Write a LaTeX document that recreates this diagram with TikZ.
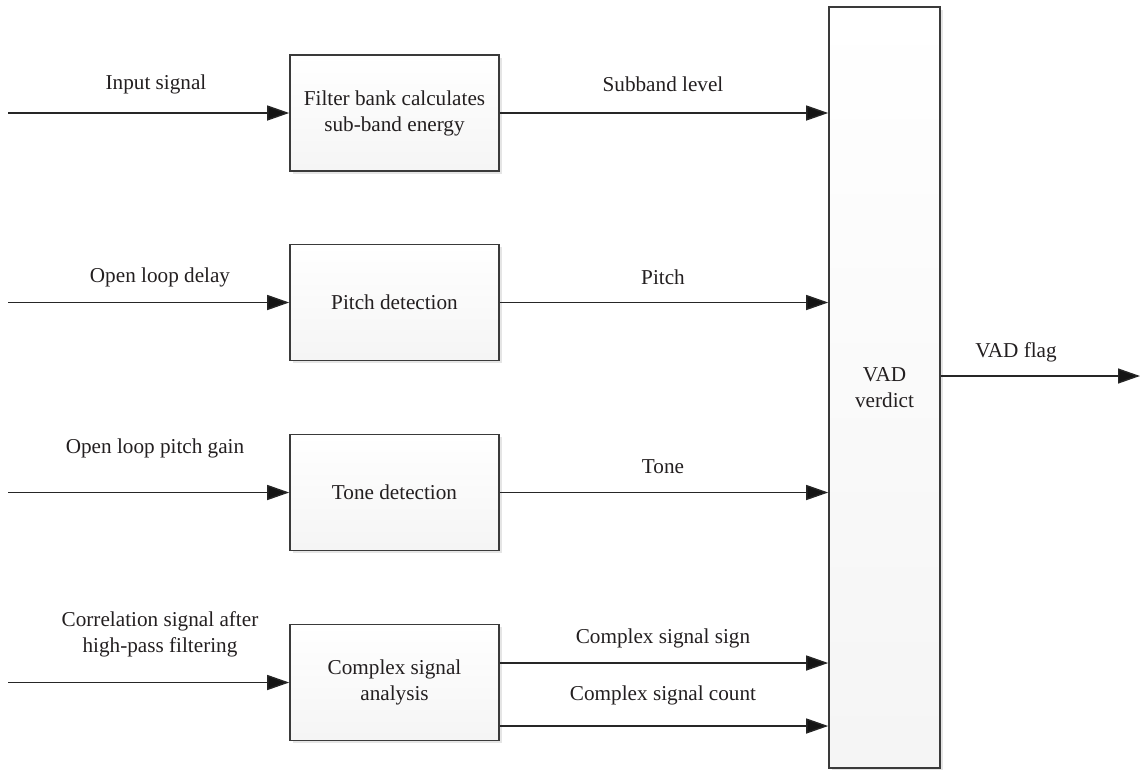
\documentclass[tikz,border=0pt]{standalone}
\usepackage{fontspec}
\setmainfont{Liberation Serif}
\usetikzlibrary{arrows.meta,shadows}
\definecolor{txt}{HTML}{231F20}
\definecolor{edge}{HTML}{3A3A3A}
\tikzset{
  blk/.style={draw=edge, line width=1.6pt, top color=white, bottom color=black!4,
    drop shadow={shadow xshift=2.5pt, shadow yshift=-2.5pt, fill=black!10, opacity=1},
    align=center, text=txt, font=\fontsize{21.2}{26}\selectfont, inner sep=0pt},
  stdbox/.style={blk, minimum width=209pt, minimum height=116pt},
  lbl/.style={align=center, text=txt, font=\fontsize{21.2}{26}\selectfont, inner sep=0pt},
  arr/.style={draw=black!85, line width=1.4pt, -{Triangle[length=22pt, width=15pt, fill=black!92]}}
}
\begin{document}
\begin{tikzpicture}[x=1pt, y=-1pt]
\useasboundingbox (0,0) rectangle (1140,769);
% blocks
\node[stdbox] (b1) at (394.5,113) {Filter bank calculates\\sub-band energy};
\node[stdbox] (b2) at (394.5,302.5) {Pitch detection};
\node[stdbox] (b3) at (394.5,492.5) {Tone detection};
\node[stdbox] (b4) at (394.5,682.5) {Complex signal\\analysis};
\node[blk, minimum width=111pt, minimum height=761pt] (v) at (884.5,387.5) {VAD\\verdict};
% input ends
\coordinate (i1) at (8,113);
\coordinate (i2) at (8,302.5);
\coordinate (i3) at (8,492.5);
\coordinate (i4) at (8,682.5);
\draw[arr] (i1) -- (b1.west);
\draw[arr] (i2) -- (b2.west);
\draw[arr] (i3) -- (b3.west);
\draw[arr] (i4) -- (b4.west);
% outputs
\draw[arr] (b1.east) -- (b1.east -| v.west);
\draw[arr] (b2.east) -- (b2.east -| v.west);
\draw[arr] (b3.east) -- (b3.east -| v.west);
\coordinate (c1) at ([yshift=19.5pt]b4.east);
\coordinate (c2) at ([yshift=-43.5pt]b4.east);
\draw[arr] (c1) -- (c1 -| v.west);
\draw[arr] (c2) -- (c2 -| v.west);
\coordinate (out) at (1140,376);
\draw[arr] (v.east |- out) -- (out);
% labels
\node[lbl] (l1) at (156,84) {Input signal};
\node[lbl] (l2) at (160,277) {Open loop delay};
\node[lbl] (l3) at (155,448) {Open loop pitch gain};
\node[lbl] (l4) at (160,634) {Correlation signal after\\high-pass filtering};
\node[lbl] (o1) at (663,84) {Subband level};
\node[lbl] (o2) at (663,277) {Pitch};
\node[lbl] (o3) at (663,467) {Tone};
\node[lbl] (o4) at (663,638) {Complex signal sign};
\node[lbl] (o5) at (663,695) {Complex signal count};
\node[lbl] (o6) at (1016,352) {VAD flag};
\end{tikzpicture}
\end{document}
